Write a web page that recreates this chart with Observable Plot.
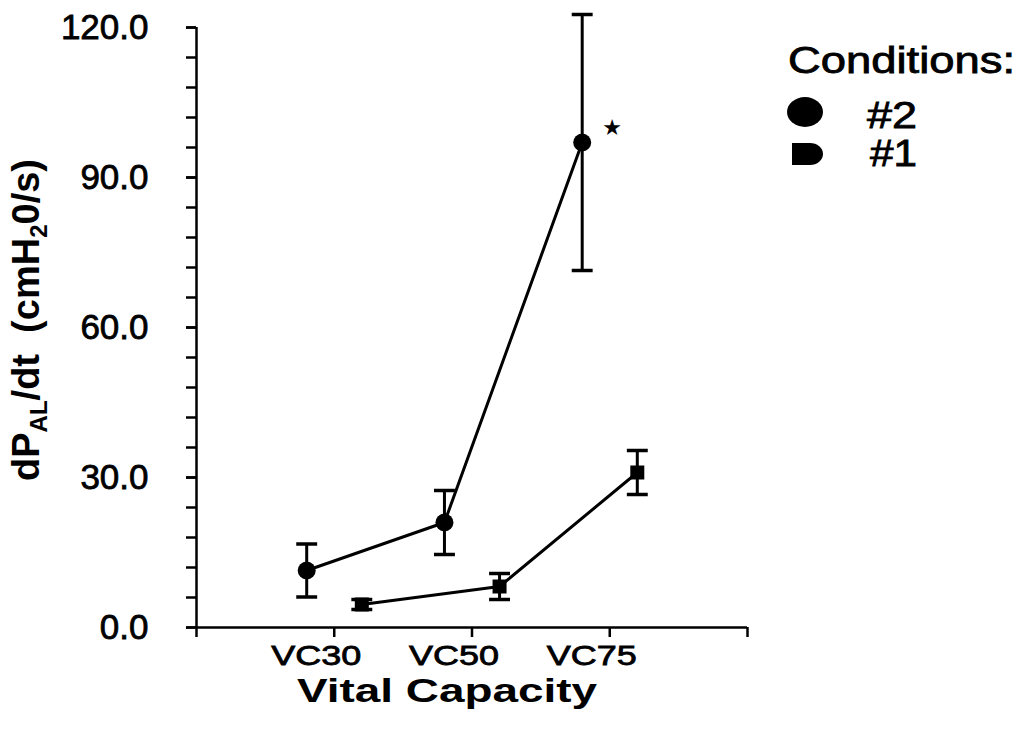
<!DOCTYPE html>
<html><head><meta charset="utf-8">
<script src="https://cdn.jsdelivr.net/npm/d3@7"></script>
<script src="https://cdn.jsdelivr.net/npm/@observablehq/plot@0.6"></script>
<style>
html,body{margin:0;padding:0;background:#fff;}
#chart{width:1020px;height:729px;}
svg{font-family:"Liberation Sans",Arial,Helvetica,sans-serif;}
</style></head><body><div id="chart"></div>
<script>
// ---- data ----
const categories = ["VC30", "VC50", "VC75"];
const conditionNames = ["#2", "#1"];
const cond2Mean = [11.4, 21.0, 97.0];
const cond2Err = [5.3, 6.4, 25.6];
const cond1Mean = [4.6, 8.2, 31.0];
const cond1Err = [1.0, 2.6, 4.4];
const yMajorTicks = [0, 30, 60, 90, 120];
const yMinorTicks = [0, 6, 12, 18, 24, 30, 36, 42, 48, 54, 60, 66, 72, 78, 84, 90, 96, 102, 108, 114, 120];
const xTicks = [1, 2, 3, 4];
const xLabelTicks = [1, 2, 3];
const xTitle = "Vital Capacity";
const legendTitle = "Conditions:";
const significance = [{condition: "#2", category: "VC75", text: "★"}];

// ---- table ----
const offset = {"#2": -0.2, "#1": 0.2};
const rows = [];
categories.forEach((c, i) => {
  rows.push({condition: "#2", category: c, idx: i + 1, mean: cond2Mean[i], err: cond2Err[i]});
  rows.push({condition: "#1", category: c, idx: i + 1, mean: cond1Mean[i], err: cond1Err[i]});
});
const X = d => d.idx + offset[d.condition];
const sigRows = significance.map(s => {
  const r = rows.find(d => d.condition === s.condition && d.category === s.category);
  return {...r, text: s.text};
});
const capSymbol = {draw(ctx, size) { const w = Math.sqrt(size) / 2; ctx.moveTo(-w, 0); ctx.lineTo(w, 0); }};

const chart = Plot.plot({
  width: 1020, height: 729,
  marginLeft: 196, marginRight: 273, marginTop: 27, marginBottom: 102,
  x: {domain: [0, 4]},
  y: {domain: [0, 120]},
  marks: [
    Plot.axisY(yMinorTicks, {tickSize: 10, tickFormat: () => "", strokeWidth: 2.5, label: null}),
    Plot.axisY(yMajorTicks, {tickSize: 10, tickPadding: 38, tickFormat: d => d.toFixed(1), fontSize: 35, strokeWidth: 2.5, label: null}),
    Plot.axisX(xTicks, {tickSize: 10, tickFormat: () => "", strokeWidth: 2.5, label: null}),
    Plot.axisX(xLabelTicks, {tickSize: 0, tickPadding: 18, tickFormat: d => categories[d - 1], fontSize: 28, dx: -18, label: null}),
    Plot.ruleY([0], {strokeWidth: 2.5}),
    Plot.ruleX([0], {strokeWidth: 2.5, insetBottom: -10}),
    Plot.line(rows, {x: X, y: "mean", z: "condition", stroke: "black", strokeWidth: 3}),
    Plot.ruleX(rows, {x: X, y1: d => d.mean - d.err, y2: d => d.mean + d.err, stroke: "black", strokeWidth: 3}),
    Plot.dot(rows, {x: X, y: d => d.mean + d.err, symbol: capSymbol, r: 11.8, stroke: "black", strokeWidth: 3.5}),
    Plot.dot(rows, {x: X, y: d => d.mean - d.err, symbol: capSymbol, r: 11.8, stroke: "black", strokeWidth: 3.5}),
    Plot.dot(rows.filter(d => d.condition === "#2"), {x: X, y: "mean", symbol: "circle", r: 9, fill: "black"}),
    Plot.dot(rows.filter(d => d.condition === "#1"), {x: X, y: "mean", symbol: "square", r: 7.9, fill: "black"}),
    Plot.text(sigRows, {x: X, y: "mean", text: "text", dx: 30, dy: -15, fontSize: 22, fontFamily: "DejaVu Sans"})
  ]
});

const svg = d3.select(chart);
svg.selectAll('[aria-label="x-axis tick label"] text')
  .attr("textLength", 90).attr("lengthAdjust", "spacingAndGlyphs");
svg.selectAll('[aria-label="x-axis tick label"], [aria-label="y-axis tick label"]')
  .attr("stroke", "black").attr("stroke-width", 0.8);

// x title
svg.append("text").attr("x", 297).attr("y", 702).attr("text-anchor", "start")
  .attr("font-size", 34).attr("font-weight", "bold")
  .attr("textLength", 300).attr("lengthAdjust", "spacingAndGlyphs")
  .text(xTitle);

// y title with subscripts
const yt = svg.append("text").attr("transform", "translate(39,320) rotate(-90)")
  .attr("text-anchor", "middle").attr("font-size", 38).attr("font-weight", "bold");
yt.append("tspan").text("dP");
yt.append("tspan").attr("dy", 8).attr("font-size", 24).text("AL");
yt.append("tspan").attr("dy", -8).text("/dt\u00a0\u00a0(cmH");
yt.append("tspan").attr("dy", 8).attr("font-size", 24).text("2");
yt.append("tspan").attr("dy", -8).text("0/s)");

// legend
const lg = svg.append("g").attr("text-anchor", "start").attr("stroke-width", 0.8);
lg.append("text").attr("x", 788).attr("y", 73).attr("font-size", 36).attr("stroke", "black")
  .attr("textLength", 227).attr("lengthAdjust", "spacingAndGlyphs").text(legendTitle);
lg.append("ellipse").attr("cx", 805).attr("cy", 112).attr("rx", 18).attr("ry", 15).attr("fill", "black");
lg.append("text").attr("x", 867).attr("y", 128).attr("font-size", 36).attr("stroke", "black")
  .attr("textLength", 50).attr("lengthAdjust", "spacingAndGlyphs").text(conditionNames[0]);
lg.append("path").attr("d", "M792,143 L810,143 A13,11 0 0 1 810,165 L792,165 Z").attr("fill", "black");
lg.append("text").attr("x", 870).attr("y", 166).attr("font-size", 36).attr("stroke", "black")
  .attr("textLength", 47).attr("lengthAdjust", "spacingAndGlyphs").text(conditionNames[1]);

document.getElementById("chart").appendChild(chart);
</script></body></html>
